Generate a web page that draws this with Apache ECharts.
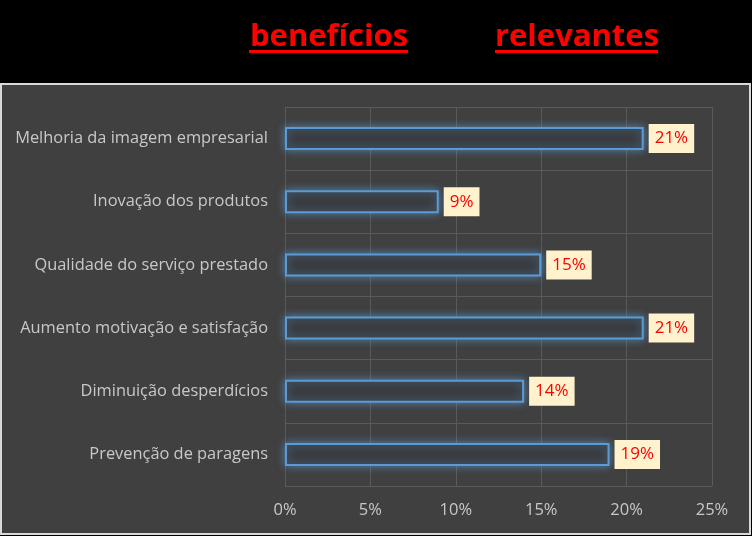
<!DOCTYPE html>
<html><head><meta charset="utf-8">
<script src="https://cdn.jsdelivr.net/npm/echarts@6/dist/echarts.min.js"></script>
<style>html,body{margin:0;padding:0;background:#000;}#c{width:752px;height:536px;}</style>
</head><body><div id="c"></div>
<script>
const categories = ["Melhoria da imagem empresarial","Inovação dos produtos","Qualidade do serviço prestado","Aumento motivação e satisfação","Diminuição desperdícios","Prevenção de paragens"];
const values = [21, 9, 15, 21, 14, 19];
const titleWords = ["benefícios", "relevantes"];
const FONT = "Open Sans";
const chart = echarts.init(document.getElementById('c'));
chart.setOption({
  backgroundColor: '#000000',
  animation: false,
  graphic: [
    {type:'rect', shape:{x:1, y:84, width:749, height:450}, style:{fill:'#404040', stroke:'#d9d9d9', lineWidth:2}, z:-10},
    {type:'text', x:329, y:37, style:{text:titleWords[0], fill:'#ff0000', font:'bold 31px "Open Sans"', textAlign:'center', textVerticalAlign:'middle'}},
    {type:'rect', shape:{x:249, y:50, width:159, height:3}, style:{fill:'#ff0000'}},
    {type:'text', x:577, y:37, style:{text:titleWords[1], fill:'#ff0000', font:'bold 31px "Open Sans"', textAlign:'center', textVerticalAlign:'middle'}},
    {type:'rect', shape:{x:495, y:50, width:163, height:3}, style:{fill:'#ff0000'}}
  ],
  grid: {left:285, right:40, top:107, bottom:50, containLabel:false},
  xAxis: {
    type:'value', min:0, max:25, interval:5,
    axisLine:{show:false}, axisTick:{show:false},
    splitLine:{show:true, lineStyle:{color:'#5a5a5a', width:1}},
    axisLabel:{formatter:'{value}%', color:'#c8c8c8', fontSize:16.5, fontFamily:FONT, margin:16}
  },
  yAxis: {
    type:'category', data:categories, inverse:true,
    axisLine:{show:false}, axisTick:{show:false},
    splitLine:{show:true, lineStyle:{color:'#5a5a5a', width:1}},
    axisLabel:{color:'#c8c8c8', fontSize:16.4, fontFamily:FONT, margin:17, padding:[3,0,0,0]}
  },
  series: [{
    type:'bar', data:values, barWidth:23,
    itemStyle:{color:'#393c40', borderColor:'#5b9bd5', borderWidth:2, shadowBlur:8, shadowColor:'rgba(91,155,213,0.7)'},
    label:{show:true, position:'right', distance:5, formatter:'{c}%', color:'#ff0000', fontSize:17, fontFamily:FONT, backgroundColor:'#fff2cc', padding:[5,6,5,6], lineHeight:19}
  }]
});
</script></body></html>
